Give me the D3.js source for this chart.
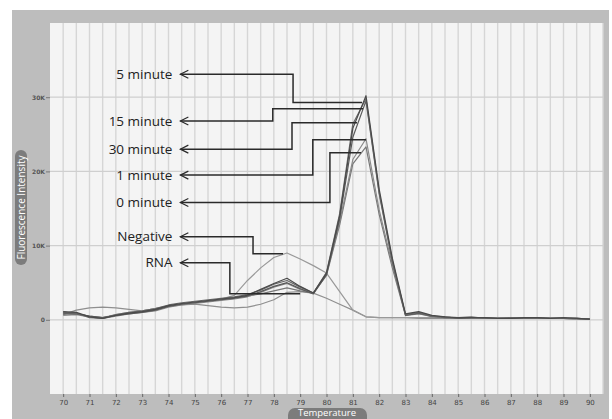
<!DOCTYPE html>
<html>
<head>
<meta charset="utf-8">
<script src="https://cdn.jsdelivr.net/npm/d3@7"></script>
<style>
  body { margin: 0; background: #fff; }
  svg { display: block; }
</style>
</head>
<body>
<div id="chart"></div>
<script>
// temperatures sampled every 0.5 degree
const temps = d3.range(70, 90.01, 0.5)

// fluorescence (in K units) per curve
const min5 = [1.1,1.0,0.4,0.2,0.6,0.9,1.1,1.4,1.9,2.2,2.4,2.6,2.8,3.0,3.3,4.1,4.9,5.6,4.5,3.6,6.3,14.0,25.8,30.2,17.6,8.3,0.8,1.1,0.6,0.4,0.3,0.3,0.3,0.2,0.2,0.3,0.3,0.2,0.3,0.2,0.1]
const min15 = [1.0,0.9,0.3,0.2,0.7,1.0,1.2,1.5,2.0,2.3,2.5,2.7,2.9,3.1,3.4,4.0,4.8,5.3,4.4,3.6,6.4,14.3,26.4,29.8,17.2,8.0,0.7,1.0,0.5,0.3,0.3,0.4,0.2,0.2,0.3,0.2,0.2,0.2,0.2,0.2,0.1]
const min30 = [0.8,0.8,0.5,0.3,0.6,0.8,1.0,1.3,1.8,2.1,2.3,2.5,2.7,2.9,3.2,3.8,4.5,5.0,4.2,3.5,6.1,13.6,24.6,29.5,17.0,7.8,0.6,0.9,0.5,0.4,0.2,0.3,0.3,0.2,0.2,0.2,0.3,0.2,0.2,0.2,0.1]
const min1 = [0.6,0.7,0.4,0.2,0.5,0.8,1.0,1.2,1.7,2.0,2.2,2.4,2.6,2.8,3.1,3.7,4.4,4.9,4.1,3.6,6.2,13.2,21.6,24.4,14.8,7.4,0.7,0.9,0.4,0.3,0.3,0.2,0.2,0.2,0.2,0.2,0.2,0.2,0.2,0.1,0.1]
const min0 = [0.9,0.8,0.5,0.3,0.6,0.9,1.1,1.3,1.8,2.1,2.3,2.5,2.7,3.0,3.2,3.5,3.9,4.3,3.9,3.6,6.0,12.8,21.0,23.3,14.2,7.0,0.6,0.8,0.5,0.3,0.2,0.3,0.2,0.2,0.2,0.3,0.2,0.2,0.2,0.2,0.1]
const negative = [1.0,0.9,0.4,0.3,0.7,1.0,1.2,1.5,1.9,2.2,2.4,2.6,2.8,3.3,5.3,7.0,8.4,9.0,8.2,7.3,6.3,3.8,1.3,0.4,0.3,0.3,0.3,0.3,0.3,0.3,0.2,0.2,0.2,0.2,0.2,0.2,0.2,0.2,0.2,0.1,0.1]
const rna = [0.7,1.3,1.6,1.7,1.6,1.4,1.2,1.5,1.8,2.0,2.1,1.9,1.7,1.6,1.7,2.1,2.7,3.7,3.8,3.6,2.9,2.1,1.3,0.4,0.3,0.3,0.3,0.2,0.2,0.2,0.2,0.2,0.2,0.2,0.2,0.2,0.2,0.2,0.2,0.1,0.1]

const seriesNames = ["5 minute", "15 minute", "30 minute", "1 minute", "0 minute", "Negative", "RNA"]
const seriesValues = [min5, min15, min30, min1, min0, negative, rna]
const seriesColors = ["#4a4a4a", "#6a6a6a", "#5a5a5a", "#8a8a8a", "#777", "#999", "#8f8f8f"]

// label arrows: text level (K), elbow temperature, target value (K), target temperature
const labelLevel = [33.1, 26.8, 23.0, 19.5, 15.8, 11.2, 7.7]
const elbowTemp = [78.73, 77.96, 78.69, 79.48, 80.13, 77.21, 76.33]
const targetLevel = [29.3, 28.45, 26.55, 24.25, 22.5, 8.9, 3.5]
const targetTemp = [81.35, 81.39, 81.16, 81.5, 81.31, 78.35, 79.0]

const xTicks = d3.range(70, 91, 1)
const yTicks = [0, 10000, 20000, 30000]
const yTickLabels = ["0", "10K", "20K", "30K"]

const width = 612
const height = 419
const frame = {left: 12, top: 10, right: 609, bottom: 419}
const plot = {left: 50, top: 23, right: 603, bottom: 394}

var svg = d3.select("#chart")
  .append("svg")
    .attr("width", width)
    .attr("height", height)

var x = d3.scaleLinear().domain([69.5, 90.5]).range([plot.left, plot.right])
var y = d3.scaleLinear().domain([-10000, 40000]).range([plot.bottom, plot.top])

// grey frame and plot area
svg.append("rect")
    .attr("x", frame.left).attr("y", frame.top)
    .attr("width", frame.right - frame.left).attr("height", frame.bottom - frame.top)
    .attr("fill", "#bdbdbd")

svg.append("rect")
    .attr("x", plot.left).attr("y", plot.top)
    .attr("width", plot.right - plot.left).attr("height", plot.bottom - plot.top)
    .attr("fill", "#f4f4f4")

// grid
svg.append("g")
  .selectAll("line")
  .data(d3.range(70, 90.6, 0.5))
  .enter().append("line")
    .attr("x1", d => x(d)).attr("x2", d => x(d))
    .attr("y1", plot.top).attr("y2", plot.bottom)
    .attr("stroke", "#d6d6d6")
    .attr("stroke-width", 1.4)

svg.append("g")
  .selectAll("line")
  .data(yTicks)
  .enter().append("line")
    .attr("x1", plot.left).attr("x2", plot.right)
    .attr("y1", d => y(d)).attr("y2", d => y(d))
    .attr("stroke", "#cfcfcf")
    .attr("stroke-width", 1.2)

// axes
var xAxis = svg.append("g")
  .attr("transform", "translate(0," + plot.bottom + ")")
  .call(d3.axisBottom(x).tickValues(xTicks).tickSize(3).tickPadding(3))
xAxis.select(".domain").remove()
xAxis.selectAll("line").attr("stroke", "#666")
xAxis.selectAll("text")
  .attr("fill", "#444")
  .style("font", "7px 'DejaVu Sans'")

var yAxis = svg.append("g")
  .attr("transform", "translate(" + plot.left + ",0)")
  .call(d3.axisLeft(y).tickValues(yTicks).tickFormat((d, i) => yTickLabels[i]).tickSize(4).tickPadding(1))
yAxis.select(".domain").remove()
yAxis.selectAll("line").attr("stroke", "#777")
yAxis.selectAll("text")
  .attr("fill", "#555")
  .style("font", "bold 6px 'DejaVu Sans'")

// axis title pills
svg.append("rect")
    .attr("x", 15).attr("y", 150).attr("width", 12).attr("height", 115)
    .attr("rx", 6).attr("fill", "#7c7c7c")
svg.append("text")
    .attr("transform", "translate(24.5,207.5) rotate(-90)")
    .attr("text-anchor", "middle")
    .attr("fill", "#fff")
    .style("font", "10px 'Open Sans'")
    .text("Fluorescence Intensity")

svg.append("rect")
    .attr("x", 288).attr("y", 408).attr("width", 79).attr("height", 18)
    .attr("rx", 7).attr("fill", "#7c7c7c")
svg.append("text")
    .attr("x", 327).attr("y", 416)
    .attr("text-anchor", "middle")
    .attr("fill", "#fff")
    .style("font", "9.5px 'Open Sans'")
    .text("Temperature")

// curves, drawn lightest first
var line = d3.line()
  .x((d, i) => x(temps[i]))
  .y(d => y(d * 1000))

var order = [6, 5, 4, 3, 2, 1, 0]
svg.append("g")
  .selectAll("path")
  .data(order)
  .enter().append("path")
    .attr("d", i => line(seriesValues[i]))
    .attr("fill", "none")
    .attr("stroke", i => seriesColors[i])
    .attr("stroke-width", 1.2)
    .attr("stroke-linejoin", "round")

// label arrows
var labelX = 74.15
var arrowX = 74.45
var labels = svg.append("g")

seriesNames.forEach((name, i) => {
  let ty = y(labelLevel[i] * 1000)
  let ey = y(targetLevel[i] * 1000)
  let pts = [[x(arrowX), ty], [x(elbowTemp[i]), ty], [x(elbowTemp[i]), ey], [x(targetTemp[i]), ey]]

  labels.append("path")
    .attr("d", d3.line()(pts))
    .attr("fill", "none")
    .attr("stroke", "#2a2a2a")
    .attr("stroke-width", 1.5)

  labels.append("path")
    .attr("d", d3.line()([[x(arrowX) + 8, ty - 4], [x(arrowX), ty], [x(arrowX) + 8, ty + 4]]))
    .attr("fill", "none")
    .attr("stroke", "#2a2a2a")
    .attr("stroke-width", 1.2)

  labels.append("text")
    .attr("x", x(labelX))
    .attr("y", ty)
    .attr("dy", "0.35em")
    .attr("text-anchor", "end")
    .attr("fill", "#222")
    .style("font", "13.5px 'Open Sans'")
    .text(name)
})
</script>
</body>
</html>
